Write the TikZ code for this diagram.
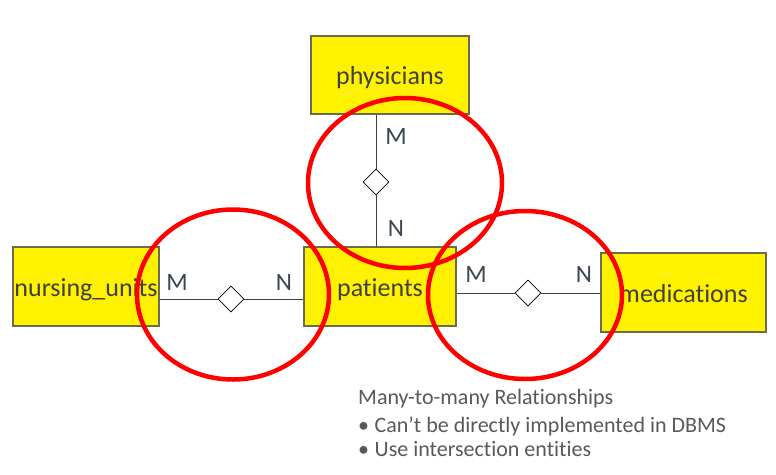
\documentclass[tikz,border=0pt]{standalone}
\usepackage{fontspec}
\setmainfont{Carlito}[Ligatures={NoCommon}]
\usetikzlibrary{shapes.geometric}
\begin{document}
\begin{tikzpicture}[x=1pt,y=-1pt,
  entity/.style={draw=boxedge,line width=1.2pt,fill=yellow,inner sep=0pt,
    font=\fontsize{26}{30}\selectfont,text=labeltext,text height=19pt,text depth=0pt},
  rel/.style={draw=black,fill=white,line width=0.8pt,shape=diamond,
    minimum width=26pt,minimum height=26pt,inner sep=0pt},
  conn/.style={draw=linegray,line width=1pt},
  card/.style={font=\fontsize{25}{29}\selectfont,text=cardtext,inner sep=0pt},
  hl/.style={draw=hlred,line width=4.5pt},
  note/.style={font=\fontsize{22}{26}\selectfont,text=notetext,inner sep=0pt,anchor=base west}]
\definecolor{boxedge}{HTML}{6B6B50}
\definecolor{labeltext}{HTML}{404040}
\definecolor{cardtext}{HTML}{3C4652}
\definecolor{linegray}{HTML}{404040}
\definecolor{hlred}{HTML}{FF0000}
\definecolor{notetext}{HTML}{595959}
\useasboundingbox (0,0) rectangle (776,474);
\fill[white] (0,0) rectangle (776,474);
% entities
\node[entity,minimum width=158pt,minimum height=78pt] (phys) at (390,75) {physicians};
\node[entity,minimum width=152pt,minimum height=79pt] (pat) at (380,286.5) {patients};
\node[entity,minimum width=146pt,minimum height=79pt] (nu) at (86,286.5) {nursing\_units};
\node[entity,minimum width=165pt,minimum height=79pt] (med) at (683.5,292.5) {medications};
% relationships
\node[rel] (d1) at (376,182) {};
\node[rel] (d2) at (231,299) {};
\node[rel] (d3) at (528,293) {};
% connectors
\draw[conn] (d1 |- phys.south) -- (d1.north);
\draw[conn] (d1.south) -- (d1 |- pat.north);
\draw[conn] (nu.east |- d2) -- (d2.west);
\draw[conn] (d2.east) -- (d2 -| pat.west);
\draw[conn] (pat.east |- d3) -- (d3.west);
\draw[conn] (d3.east) -- (d3 -| med.west);
% cardinalities
\node[card] (c1) at (396,136) {M};
\node[card] (c2) at (396,228) {N};
\node[card] (c3) at (177,282) {M};
\node[card] (c4) at (284,282) {N};
\node[card] (c5) at (476,274) {M};
\node[card] (c6) at (584,274) {N};
% highlight ellipses
\draw[hl] (405,183) ellipse [x radius=97pt,y radius=85pt];
\draw[hl] (233,294.5) ellipse [x radius=96pt,y radius=85pt];
\draw[hl] (525,295) ellipse [x radius=97pt,y radius=84pt];
% note
\node[note] (n1) at (358,404) {Many-to-many Relationships};
\node[note] (n2) at (358,432) {\textbullet\hspace{5.5pt}Can’t be directly implemented in DBMS};
\node[note] (n3) at (358,456) {\textbullet\hspace{5.5pt}Use intersection entities};
\end{tikzpicture}
\end{document}
